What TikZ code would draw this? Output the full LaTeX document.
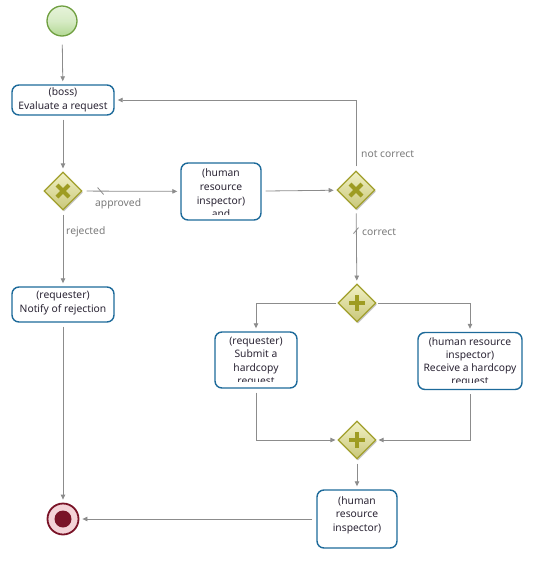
\documentclass[tikz,border=0pt]{standalone}
\usepackage{fontspec}
\setmainfont{Noto Sans}
\usetikzlibrary{shapes.geometric,arrows.meta,shadows}
\definecolor{taskblue}{HTML}{1D6A9A}
\definecolor{linegray}{HTML}{8C8C8C}
\definecolor{labelgray}{HTML}{7A7A7A}
\definecolor{txt}{HTML}{2A2434}
\definecolor{gwborder}{HTML}{A19F2C}
\definecolor{gwlight}{HTML}{F1F1C4}
\definecolor{gwdark}{HTML}{C9C77A}
\definecolor{gwmark}{HTML}{9E9C22}
\definecolor{startborder}{HTML}{6F9F40}
\definecolor{startlight}{HTML}{E6F3DA}
\definecolor{startdark}{HTML}{B2D893}
\definecolor{endred}{HTML}{7A1428}
\definecolor{endpink}{HTML}{F4D3D8}
\begin{document}
\begin{tikzpicture}[x=1pt,y=-1pt,
  font=\fontsize{10.3}{13.6}\selectfont,
  flow/.style={draw=linegray, line width=0.8pt, shorten <=4pt, shorten >=3pt,
    -{Triangle[length=5pt,width=4.5pt]}},
  plain/.style={draw=linegray, line width=0.8pt},
  task/.style={draw=taskblue, line width=1.4pt, rounded corners=7pt, fill=white, inner sep=0pt},
  ttext/.style={align=center, text=txt, inner sep=0pt},
  lbl/.style={text=labelgray, inner sep=0pt, anchor=west},
  gw/.style={diamond, aspect=1, minimum width=38pt, minimum height=38pt, inner sep=0pt,
    draw=gwborder, line width=1.2pt, top color=gwlight, bottom color=gwdark,
    drop shadow={opacity=0.22, shadow xshift=1pt, shadow yshift=-1.5pt, fill=black}},
  gwbar/.style={draw=gwmark, line width=4.2pt},
]
\useasboundingbox (0,0) rectangle (535,579);

% events
\node[circle, minimum size=30pt, inner sep=0pt, draw=startborder, line width=1.3pt,
  top color=startlight, bottom color=startdark, middle color=startlight!70!startdark] (start) at (62,21) {};
\node[circle, minimum size=31pt, inner sep=0pt, draw=endred, line width=1.8pt,
  fill=endpink] (end) at (63,519) {};
\node[circle, minimum size=17pt, inner sep=0pt, fill=endred] (endin) at (63,519) {};

% tasks
\node[task, minimum width=102pt, minimum height=30pt] (boss) at (63,100) {};
\node[ttext] (bosst) at (63,100) {(boss)\\Evaluate a request};

\node[task, minimum width=102pt, minimum height=35pt] (rej) at (63,304.5) {};
\node[ttext] (rejt) at (63,303) {(requester)\\Notify of rejection};

\node[task, minimum width=80pt, minimum height=57pt] (hr1) at (221,191.5) {};
\begin{scope}
\clip ([xshift=2pt,yshift=6.5pt]hr1.south west) rectangle ([xshift=-2pt,yshift=-2pt]hr1.north east);
\node[ttext] (hr1t) at (221,193.5) {(human\\resource\\inspector)\\and};
\end{scope}

\node[task, minimum width=82pt, minimum height=56pt] (sub) at (256,360) {};
\begin{scope}
\clip ([xshift=2pt,yshift=7pt]sub.south west) rectangle ([xshift=-2pt,yshift=-2pt]sub.north east);
\node[ttext] (suba) at (256,342) {(requester)};
\node[ttext] (subn) at (256,368.5) {Submit a\\hardcopy\\request};
\end{scope}

\node[task, minimum width=104pt, minimum height=57pt] (rec) at (470,361) {};
\begin{scope}
\clip ([xshift=2pt,yshift=8pt]rec.south west) rectangle ([xshift=-2pt,yshift=-2pt]rec.north east);
\node[ttext] (reca) at (470,349.5) {(human resource\\inspector)};
\node[ttext] (recn) at (470,375.5) {Receive a hardcopy\\request};
\end{scope}

\node[task, minimum width=80pt, minimum height=58pt] (hr3) at (357,519) {};
\node[ttext] (hr3t) at (357,515) {(human\\resource\\inspector)};

% gateways
\node[gw] (g1) at (63,191) {};
\draw[gwbar] ([xshift=-6pt,yshift=-6pt]g1.center) -- ([xshift=6pt,yshift=6pt]g1.center);
\draw[gwbar] ([xshift=-6pt,yshift=6pt]g1.center) -- ([xshift=6pt,yshift=-6pt]g1.center);

\node[gw] (g2) at (356,190) {};
\draw[gwbar] ([xshift=-6pt,yshift=-6pt]g2.center) -- ([xshift=6pt,yshift=6pt]g2.center);
\draw[gwbar] ([xshift=-6pt,yshift=6pt]g2.center) -- ([xshift=6pt,yshift=-6pt]g2.center);

\node[gw] (p1) at (357,303) {};
\draw[gwbar] ([xshift=-8pt]p1.center) -- ([xshift=8pt]p1.center);
\draw[gwbar] ([yshift=-8pt]p1.center) -- ([yshift=8pt]p1.center);

\node[gw] (p2) at (357,440) {};
\draw[gwbar] ([xshift=-8pt]p2.center) -- ([xshift=8pt]p2.center);
\draw[gwbar] ([yshift=-8pt]p2.center) -- ([yshift=8pt]p2.center);

% flows
\draw[flow, shorten <=8pt] (start) -- (boss);
\draw[flow] (boss) -- (g1);
\draw[flow] (g1) -- (rej);
\node[lbl] (lrej) at (66,232) {rejected};
\draw[flow] (g1) -- (hr1);
\node[lbl] (lapp) at (95,204) {approved};
\draw[plain] ([xshift=15pt,yshift=3.5pt]g1.east) -- ([xshift=21pt,yshift=-3.5pt]g1.east);
\draw[flow] (hr1) -- (g2);
\draw[flow] (g2.north) |- (boss.east);
\node[lbl] (lnot) at (361,154) {not correct};
\draw[flow] (g2) -- (p1);
\node[lbl] (lcor) at (362,232) {correct};
\draw[plain] ([xshift=-2.5pt,yshift=-24pt]g2.south) -- ([xshift=2.5pt,yshift=-18pt]g2.south);
\draw[flow, shorten <=1pt] (p1.west) -| (sub.north);
\draw[flow, shorten <=1pt] (p1.east) -| (rec.north);
\draw[flow, shorten >=2pt] (sub.south) |- (p2.west);
\draw[flow, shorten >=2pt] (rec.south) |- (p2.east);
\draw[flow] (p2) -- (hr3);
\draw[flow] (hr3) -- (end);
\draw[flow] (rej) -- (end);
\end{tikzpicture}
\end{document}
